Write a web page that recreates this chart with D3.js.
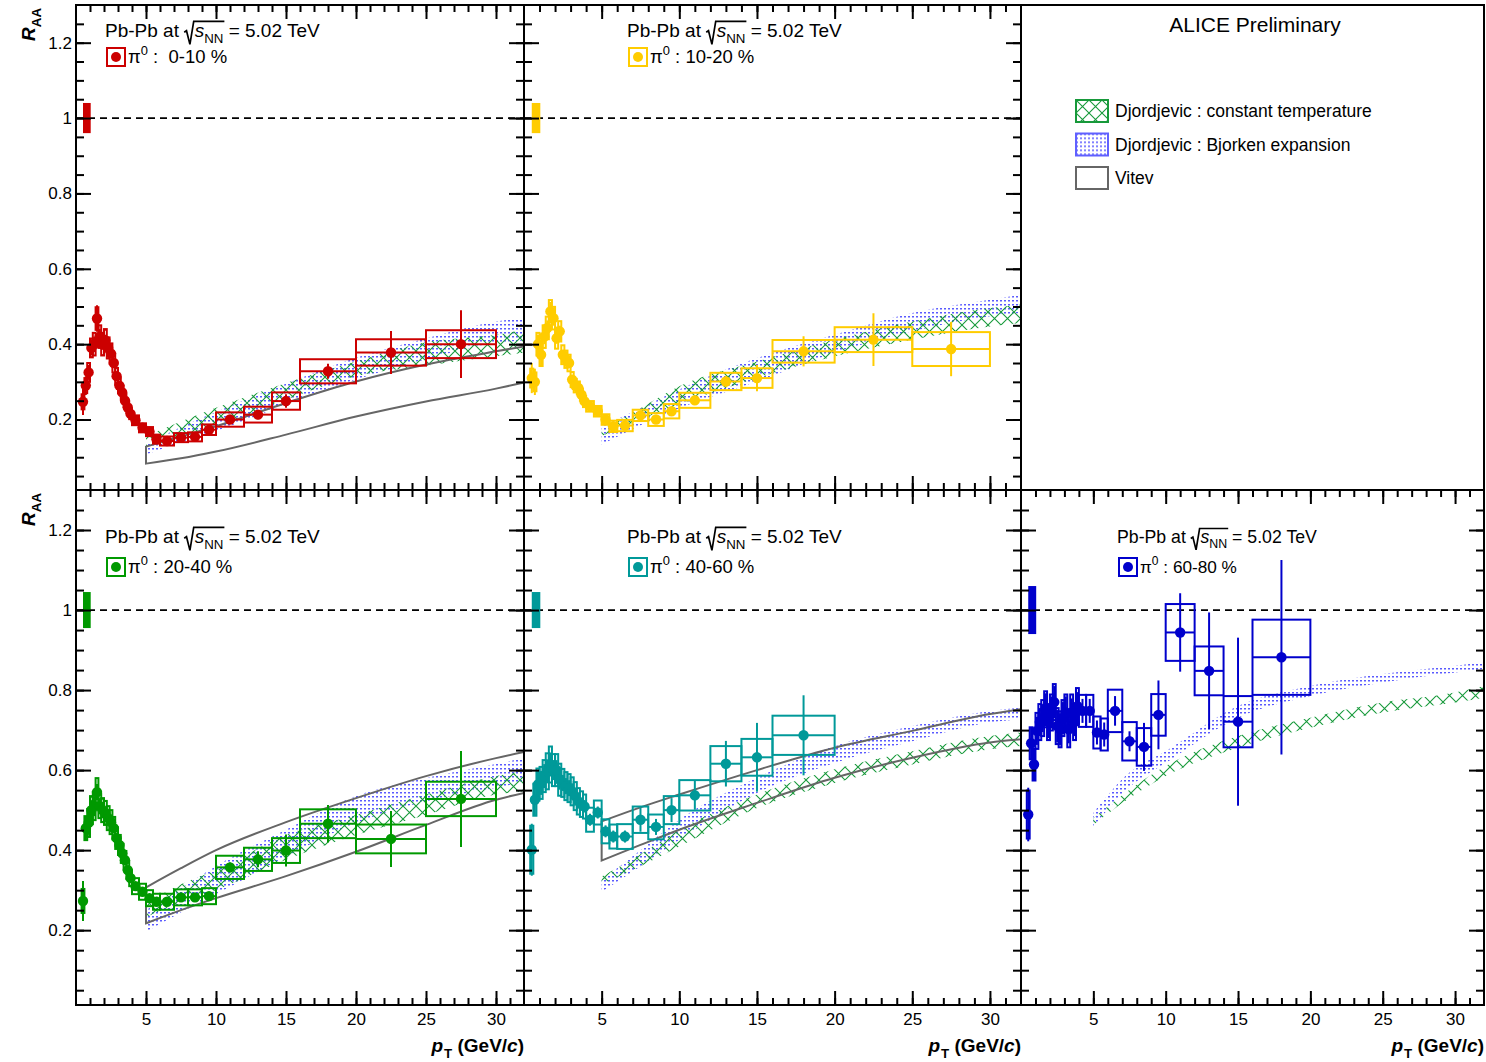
<!DOCTYPE html>
<html>
<head>
<meta charset="utf-8">
<script src="https://cdn.jsdelivr.net/npm/d3@7"></script>
<style>
body { margin: 0; background: #fff; }
text { font-family: "Liberation Sans", Arial, sans-serif; }
</style>
</head>
<body>
<svg id="chart" width="1486" height="1062"></svg>
<script>
// pT bins shared by all centralities
const ptCenters = [0.5,0.7,0.9,1.1,1.3,1.5,1.7,1.9,2.1,2.3,2.5,2.7,2.9,3.1,3.3,3.5,3.7,3.9,4.25,4.75,5.25,5.75,6.5,7.5,8.5,9.5,11,13,15,18,22.5,27.5];
const ptHalf = [0.1,0.1,0.1,0.1,0.1,0.1,0.1,0.1,0.1,0.1,0.1,0.1,0.1,0.1,0.1,0.1,0.1,0.1,0.25,0.25,0.25,0.25,0.5,0.5,0.5,0.5,1,1,1,2,2.5,2.5];

const centLabels = ["0-10 %", "10-20 %", "20-40 %", "40-60 %", "60-80 %"];
const centColors = ["#cc0000", "#ffcc00", "#009900", "#009999", "#0000cc"];
const normUnc = [0.04, 0.04, 0.045, 0.045, 0.06];

const raa0010 = [0.247,0.29,0.325,0.39,0.40,0.468,0.42,0.40,0.41,0.39,0.375,0.35,0.315,0.29,0.272,0.25,0.232,0.215,0.198,0.178,0.168,0.148,0.143,0.152,0.154,0.173,0.20,0.213,0.249,0.328,0.378,0.40];
const stat0010 = [0.035,0.025,0.02,0.02,0.02,0.035,0.02,0.015,0.015,0.015,0.012,0.012,0.01,0.01,0.01,0.01,0.008,0.008,0.008,0.006,0.006,0.006,0.006,0.006,0.007,0.008,0.01,0.012,0.018,0.02,0.057,0.09];
const sys0010 = [0.02,0.02,0.025,0.025,0.03,0.03,0.03,0.03,0.03,0.028,0.027,0.025,0.022,0.02,0.018,0.017,0.015,0.014,0.013,0.012,0.012,0.012,0.012,0.012,0.012,0.014,0.019,0.021,0.023,0.032,0.035,0.037];

const raa1020 = [0.31,0.30,0.40,0.372,0.42,0.443,0.487,0.469,0.416,0.434,0.372,0.36,0.35,0.306,0.29,0.284,0.266,0.248,0.235,0.222,0.20,0.182,0.184,0.211,0.20,0.222,0.251,0.301,0.31,0.381,0.412,0.387];
const stat1020 = [0.04,0.035,0.025,0.03,0.02,0.02,0.025,0.02,0.015,0.015,0.012,0.012,0.01,0.01,0.01,0.01,0.008,0.008,0.008,0.007,0.006,0.006,0.006,0.007,0.008,0.01,0.012,0.015,0.035,0.04,0.07,0.072];
const sys1020 = [0.025,0.025,0.03,0.03,0.03,0.03,0.03,0.03,0.028,0.027,0.025,0.023,0.022,0.02,0.018,0.017,0.016,0.015,0.014,0.014,0.014,0.015,0.015,0.015,0.017,0.019,0.02,0.023,0.026,0.03,0.033,0.045];

const raa2040 = [0.273,0.455,0.468,0.50,0.51,0.545,0.51,0.50,0.493,0.48,0.47,0.455,0.43,0.413,0.392,0.375,0.35,0.33,0.31,0.296,0.28,0.271,0.271,0.282,0.282,0.285,0.357,0.377,0.399,0.466,0.428,0.528];
const stat2040 = [0.05,0.03,0.03,0.025,0.025,0.02,0.02,0.02,0.015,0.015,0.015,0.012,0.012,0.01,0.01,0.01,0.01,0.008,0.008,0.007,0.007,0.006,0.006,0.007,0.008,0.01,0.012,0.02,0.04,0.047,0.07,0.12];
const sys2040 = [0.03,0.03,0.035,0.035,0.035,0.035,0.03,0.03,0.03,0.03,0.03,0.028,0.027,0.025,0.024,0.023,0.022,0.02,0.02,0.02,0.02,0.02,0.02,0.02,0.02,0.02,0.029,0.029,0.031,0.036,0.036,0.043];

const raa4060 = [0.401,0.526,0.564,0.568,0.585,0.597,0.614,0.60,0.60,0.576,0.568,0.56,0.555,0.547,0.535,0.522,0.515,0.509,0.476,0.494,0.447,0.434,0.434,0.476,0.458,0.50,0.537,0.616,0.632,0.687];
const stat4060 = [0.065,0.04,0.035,0.03,0.03,0.03,0.03,0.025,0.025,0.025,0.02,0.02,0.02,0.02,0.018,0.018,0.015,0.015,0.015,0.015,0.015,0.015,0.015,0.03,0.02,0.03,0.036,0.057,0.086,0.1];
const sys4060 = [0.06,0.04,0.04,0.04,0.04,0.045,0.045,0.04,0.04,0.04,0.035,0.035,0.035,0.035,0.035,0.033,0.032,0.03,0.03,0.03,0.03,0.03,0.031,0.033,0.031,0.035,0.038,0.044,0.046,0.049];

const raa6080 = [0.489,0.667,0.614,0.698,0.72,0.73,0.752,0.72,0.744,0.77,0.71,0.702,0.73,0.744,0.702,0.744,0.72,0.76,0.748,0.748,0.694,0.689,0.748,0.672,0.658,0.738,0.944,0.848,0.721,0.882];
const stat6080 = [0.067,0.04,0.04,0.035,0.035,0.035,0.04,0.04,0.04,0.04,0.04,0.04,0.04,0.04,0.035,0.035,0.035,0.035,0.03,0.03,0.03,0.03,0.037,0.025,0.06,0.086,0.098,0.146,0.21,0.243];
const sys6080 = [0.06,0.04,0.04,0.045,0.045,0.045,0.045,0.045,0.045,0.045,0.045,0.045,0.045,0.045,0.045,0.045,0.045,0.045,0.04,0.04,0.04,0.04,0.053,0.048,0.047,0.052,0.071,0.061,0.064,0.094];

// model curves
const modelPt = [5, 7.5, 10, 15, 20, 25, 30, 32];
const ctLo0010 = [0.129,0.155,0.182,0.253,0.315,0.343,0.368,0.377];
const ctHi0010 = [0.156,0.195,0.231,0.297,0.354,0.405,0.425,0.438];
const bjLo0010 = [0.107,0.14,0.17,0.24,0.306,0.36,0.403,0.41];
const bjHi0010 = [0.134,0.18,0.22,0.295,0.364,0.415,0.46,0.47];
const vtLo0010 = [0.083,0.097,0.115,0.16,0.208,0.248,0.282,0.298];
const vtHi0010 = [0.128,0.155,0.182,0.244,0.301,0.346,0.381,0.394];

const ctLo1020 = [0.156,0.2,0.24,0.31,0.368,0.412,0.447,0.456];
const ctHi1020 = [0.173,0.23,0.288,0.354,0.412,0.46,0.496,0.505];
const bjLo1020 = [0.134,0.185,0.23,0.301,0.377,0.434,0.474,0.483];
const bjHi1020 = [0.182,0.23,0.28,0.363,0.425,0.483,0.518,0.531];

const ctLo2040 = [0.233,0.27,0.30,0.376,0.438,0.488,0.539,0.547];
const ctHi2040 = [0.268,0.315,0.35,0.438,0.488,0.539,0.585,0.597];
const bjLo2040 = [0.196,0.245,0.29,0.384,0.468,0.522,0.556,0.57];
const bjHi2040 = [0.25,0.305,0.36,0.451,0.535,0.58,0.615,0.63];
const vtLo2040 = [0.217,0.25,0.28,0.335,0.396,0.463,0.526,0.543];
const vtHi2040 = [0.307,0.355,0.40,0.47,0.53,0.585,0.63,0.645];

const ctLo4060 = [0.315,0.36,0.409,0.505,0.568,0.614,0.652,0.66];
const ctHi4060 = [0.334,0.39,0.451,0.539,0.602,0.647,0.685,0.694];
const bjLo4060 = [0.296,0.36,0.426,0.543,0.618,0.672,0.719,0.727];
const bjHi4060 = [0.325,0.40,0.476,0.581,0.66,0.71,0.748,0.756];
const vtLo4060 = [0.374,0.413,0.451,0.518,0.581,0.631,0.669,0.677];
const vtHi4060 = [0.472,0.507,0.539,0.60,0.656,0.698,0.74,0.752];

const ctLo6080 = [0.463,0.53,0.585,0.656,0.706,0.744,0.769,0.781];
const ctHi6080 = [0.48,0.551,0.61,0.685,0.731,0.769,0.794,0.81];
const bjLo6080 = [0.459,0.558,0.618,0.731,0.785,0.819,0.844,0.852];
const bjHi6080 = [0.493,0.594,0.647,0.76,0.81,0.84,0.861,0.869];

const yMajor = [0.2, 0.4, 0.6, 0.8, 1, 1.2];
const xMajor = [5, 10, 15, 20, 25, 30];

const cols = [[76, 524], [524, 1021], [1021, 1484]];
const rows = [[5, 490], [490, 1005]];

const panels = [
    {col: 0, row: 0, c: 0, raa: raa0010, stat: stat0010, sys: sys0010, ct: [ctLo0010, ctHi0010], bj: [bjLo0010, bjHi0010], vt: [vtLo0010, vtHi0010], hx: 105, fs: 19},
    {col: 1, row: 0, c: 1, raa: raa1020, stat: stat1020, sys: sys1020, ct: [ctLo1020, ctHi1020], bj: [bjLo1020, bjHi1020], vt: null, hx: 627, fs: 19},
    {col: 0, row: 1, c: 2, raa: raa2040, stat: stat2040, sys: sys2040, ct: [ctLo2040, ctHi2040], bj: [bjLo2040, bjHi2040], vt: [vtLo2040, vtHi2040], hx: 105, fs: 19},
    {col: 1, row: 1, c: 3, raa: raa4060, stat: stat4060, sys: sys4060, ct: [ctLo4060, ctHi4060], bj: [bjLo4060, bjHi4060], vt: [vtLo4060, vtHi4060], hx: 627, fs: 19},
    {col: 2, row: 1, c: 4, raa: raa6080, stat: stat6080, sys: sys6080, ct: [ctLo6080, ctHi6080], bj: [bjLo6080, bjHi6080], vt: null, hx: 1117, fs: 17.7}
];
const headDy = [32, 53];
const entryDy = [58, 83];

const svg = d3.select("#chart");
const defs = svg.append("defs");

defs.append("pattern")
    .attr("id", "hatchCT")
    .attr("patternUnits", "userSpaceOnUse")
    .attr("width", 13).attr("height", 13)
    .append("path")
    .attr("d", "M0,0L13,13M13,0L0,13")
    .attr("stroke", "#17993a")
    .attr("stroke-width", 1.1)
    .attr("fill", "none");

defs.append("pattern")
    .attr("id", "dotsBJ")
    .attr("patternUnits", "userSpaceOnUse")
    .attr("width", 4).attr("height", 4)
    .append("rect")
    .attr("width", 2).attr("height", 1.5)
    .attr("fill", "#5a5aff");

function richText(parent, parts, size) {
    const g = parent.append("g");
    let cx = 0, radStart = null, radEnd = null;
    parts.forEach(p => {
        if (p.radical) { radStart = cx; cx += size * 0.55; return; }
        const small = p.sub || p.sup;
        const t = g.append("text")
            .attr("x", cx)
            .attr("y", p.sub ? size * 0.3 : p.sup ? -size * 0.45 : 0)
            .attr("xml:space", "preserve")
            .style("white-space", "pre")
            .style("font-size", (small ? size * 0.7 : size) + "px")
            .style("font-style", p.italic ? "italic" : "normal")
            .style("font-weight", p.bold ? "bold" : "normal")
            .text(p.t);
        cx += t.node().getComputedTextLength() + (p.gap || 0);
        if (p.endRad) radEnd = cx + 1;
    });
    if (radStart !== null) {
        const s = size;
        g.append("path")
            .attr("d", `M${radStart},${-0.25 * s}L${radStart + 0.12 * s},${-0.33 * s}L${radStart + 0.3 * s},${0.39 * s}L${radStart + 0.5 * s},${-0.82 * s}L${radEnd},${-0.82 * s}`)
            .attr("fill", "none")
            .attr("stroke", "#000")
            .attr("stroke-width", 1.7);
    }
    return {g: g, width: cx};
}

function styleAxis(sel, fontSize) {
    sel.select(".domain").remove();
    sel.selectAll("line").attr("stroke", "#000").attr("stroke-width", 2);
    sel.selectAll("text").style("font-family", "'Liberation Sans', Arial, sans-serif").style("font-size", fontSize + "px").attr("fill", "#000");
}

panels.forEach((p, i) => {
    const [x0, x1] = cols[p.col];
    const [y0, y1] = rows[p.row];
    const x = d3.scaleLinear().domain([0, 32]).range([x0, x1]);
    const y = d3.scaleLinear().domain([0.013, 1.3]).range([y1, y0]);
    const color = centColors[p.c];

    defs.append("clipPath").attr("id", "clip" + i)
        .append("rect").attr("x", x0).attr("y", y0).attr("width", x1 - x0).attr("height", y1 - y0);

    const plot = svg.append("g").attr("clip-path", `url(#clip${i})`);

    const band = (lo, hi) => d3.area()
        .x((d, j) => x(modelPt[j]))
        .y0((d, j) => y(lo[j]))
        .y1((d, j) => y(hi[j]))
        .curve(d3.curveMonotoneX)(modelPt);

    plot.append("path").attr("d", band(p.bj[0], p.bj[1])).attr("fill", "url(#dotsBJ)");
    plot.append("path").attr("d", band(p.ct[0], p.ct[1])).attr("fill", "url(#hatchCT)");
    if (p.vt) {
        plot.append("path").attr("d", band(p.vt[0], p.vt[1]))
            .attr("fill", "none")
            .attr("stroke", "#666")
            .attr("stroke-width", 2);
    }

    plot.append("line")
        .attr("x1", x(0)).attr("x2", x(32))
        .attr("y1", y(1)).attr("y2", y(1))
        .attr("stroke", "#000")
        .attr("stroke-width", 1.8)
        .attr("stroke-dasharray", "7,5");

    const pts = p.raa.map((v, j) => ({pt: ptCenters[j], h: ptHalf[j], v: v, st: p.stat[j], sy: p.sys[j]}));

    plot.append("g").selectAll("rect")
        .data(pts)
        .join("rect")
        .attr("x", d => x(d.pt - d.h))
        .attr("width", d => x(d.pt + d.h) - x(d.pt - d.h))
        .attr("y", d => y(d.v + d.sy))
        .attr("height", d => y(d.v - d.sy) - y(d.v + d.sy))
        .attr("fill", "none")
        .attr("stroke", color)
        .attr("stroke-width", 2);

    plot.append("g").selectAll("line")
        .data(pts)
        .join("line")
        .attr("x1", d => x(d.pt)).attr("x2", d => x(d.pt))
        .attr("y1", d => y(d.v - d.st)).attr("y2", d => y(d.v + d.st))
        .attr("stroke", color)
        .attr("stroke-width", 2);

    plot.append("g").selectAll("line")
        .data(pts)
        .join("line")
        .attr("x1", d => x(d.pt - d.h)).attr("x2", d => x(d.pt + d.h))
        .attr("y1", d => y(d.v)).attr("y2", d => y(d.v))
        .attr("stroke", color)
        .attr("stroke-width", 2);

    plot.append("g").selectAll("circle")
        .data(pts)
        .join("circle")
        .attr("cx", d => x(d.pt))
        .attr("cy", d => y(d.v))
        .attr("r", 5.2)
        .attr("fill", color);

    // normalisation uncertainty
    plot.append("rect")
        .attr("x", x(0.5))
        .attr("width", x(1.05) - x(0.5))
        .attr("y", y(1 + normUnc[p.c]))
        .attr("height", y(1 - normUnc[p.c]) - y(1 + normUnc[p.c]))
        .attr("fill", color);

    // axes, ticks pointing inward
    const yMinor = d3.range(1, 26).map(k => k * 0.05);
    const xMinor = d3.range(1, 32);
    const noLab = () => "";

    svg.append("g").attr("transform", `translate(${x0},0)`)
        .call(d3.axisLeft(y).tickValues(yMinor).tickSize(-8).tickFormat(noLab)).call(styleAxis, 17);
    svg.append("g").attr("transform", `translate(${x0},0)`)
        .call(d3.axisLeft(y).tickValues(yMajor).tickSize(-15).tickPadding(4).tickFormat(p.col === 0 ? d3.format("~g") : noLab)).call(styleAxis, 17);
    svg.append("g").attr("transform", `translate(${x1},0)`)
        .call(d3.axisRight(y).tickValues(yMinor).tickSize(-8).tickFormat(noLab)).call(styleAxis, 17);
    svg.append("g").attr("transform", `translate(${x1},0)`)
        .call(d3.axisRight(y).tickValues(yMajor).tickSize(-15).tickFormat(noLab)).call(styleAxis, 17);

    svg.append("g").attr("transform", `translate(0,${y1})`)
        .call(d3.axisBottom(x).tickValues(xMinor).tickSize(-7).tickFormat(noLab)).call(styleAxis, 17);
    svg.append("g").attr("transform", `translate(0,${y1})`)
        .call(d3.axisBottom(x).tickValues(xMajor).tickSize(-14).tickPadding(8).tickFormat(p.row === 1 ? d3.format("d") : noLab)).call(styleAxis, 17);
    svg.append("g").attr("transform", `translate(0,${y0})`)
        .call(d3.axisTop(x).tickValues(xMinor).tickSize(-7).tickFormat(noLab)).call(styleAxis, 17);
    svg.append("g").attr("transform", `translate(0,${y0})`)
        .call(d3.axisTop(x).tickValues(xMajor).tickSize(-14).tickFormat(noLab)).call(styleAxis, 17);

    svg.append("rect")
        .attr("x", x0).attr("y", y0)
        .attr("width", x1 - x0).attr("height", y1 - y0)
        .attr("fill", "none")
        .attr("stroke", "#000")
        .attr("stroke-width", 2);

    // header
    const head = richText(svg, [
        {t: "Pb-Pb at "}, {radical: true}, {t: "s", italic: true}, {t: "NN", sub: true, endRad: true}, {t: " = 5.02 TeV"}
    ], p.fs);
    head.g.attr("transform", `translate(${p.hx},${y0 + headDy[p.row]})`);

    const lx = p.hx + 2, ly = y0 + entryDy[p.row];
    svg.append("rect")
        .attr("x", lx).attr("y", ly - 15)
        .attr("width", 18).attr("height", 18)
        .attr("fill", "#fff")
        .attr("stroke", color)
        .attr("stroke-width", 2);
    svg.append("circle").attr("cx", lx + 9).attr("cy", ly - 6).attr("r", 5).attr("fill", color);
    const lab = centLabels[p.c];
    const ent = richText(svg, [{t: "π"}, {t: "0", sup: true}, {t: " : " + (lab.length < 7 ? " " : "") + lab}], p.fs - 0.5);
    ent.g.attr("transform", `translate(${lx + 21},${ly})`);
});

// legend panel
svg.append("rect")
    .attr("x", 1021).attr("y", 5)
    .attr("width", 463).attr("height", 485)
    .attr("fill", "none")
    .attr("stroke", "#000")
    .attr("stroke-width", 2);

svg.append("text")
    .attr("x", 1255).attr("y", 32)
    .attr("text-anchor", "middle")
    .style("font-size", "21px")
    .text("ALICE Preliminary");

const legendItems = [
    {label: "Djordjevic : constant temperature", fill: "url(#hatchCT)", stroke: "#17993a"},
    {label: "Djordjevic : Bjorken expansion", fill: "url(#dotsBJ)", stroke: "#6060ff"},
    {label: "Vitev", fill: "#fff", stroke: "#666"}
];

const legend = svg.append("g")
    .selectAll("g")
    .data(legendItems)
    .join("g")
    .attr("transform", (d, i) => `translate(1076,${100 + i * 33.5})`);

legend.append("rect")
    .attr("width", 32).attr("height", 22)
    .attr("fill", d => d.fill)
    .attr("stroke", d => d.stroke)
    .attr("stroke-width", 2);

legend.append("text")
    .attr("x", 39).attr("y", 17)
    .style("font-size", "17.5px")
    .text(d => d.label);

// axis titles
rows.forEach(r => {
    const t = richText(svg, [{t: "R", italic: true, bold: true}, {t: "AA", sub: true, bold: true}], 19);
    t.g.attr("transform", `translate(35,${r[0] + 3 + t.width}) rotate(-90)`);
});

cols.forEach(c => {
    const t = richText(svg, [
        {t: "p", italic: true, bold: true, gap: 1}, {t: "T", sub: true, bold: true}, {t: " (GeV/", bold: true}, {t: "c", italic: true, bold: true}, {t: ")", bold: true}
    ], 19);
    t.g.attr("transform", `translate(${c[1] - t.width},1052)`);
});
</script>
</body>
</html>
